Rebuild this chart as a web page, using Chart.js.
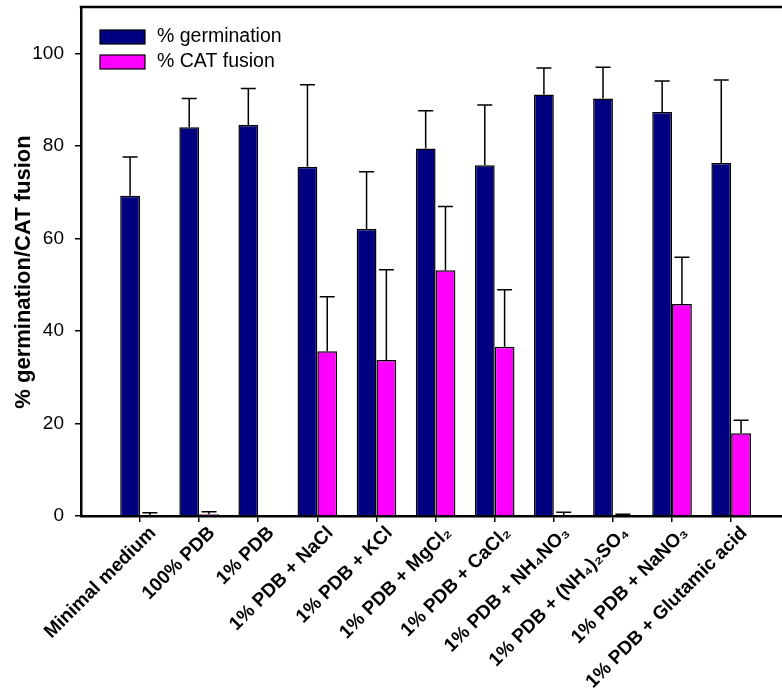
<!DOCTYPE html>
<html>
<head>
<meta charset="utf-8">
<script src="https://cdn.jsdelivr.net/npm/chart.js@4/dist/chart.umd.min.js"></script>
<style>
  html, body { margin: 0; padding: 0; background: #fff; overflow: hidden; }
  #wrap { width: 782px; height: 700px; }
</style>
</head>
<body>
<div id="wrap"><canvas id="c" width="782" height="700"></canvas></div>
<script>
// Treatments along the x axis
const categories = [
  'Minimal medium', '100% PDB', '1% PDB', '1% PDB + NaCl', '1% PDB + KCl',
  '1% PDB + MgCl\u2082', '1% PDB + CaCl\u2082', '1% PDB + NH\u2084NO\u2083',
  '1% PDB + (NH\u2084)\u2082SO\u2084', '1% PDB + NaNO\u2083', '1% PDB + Glutamic acid'
];
// Mean percentages and their (upper) error bars
const germination    = [69.2, 84.0, 84.5, 75.5, 62.0, 79.4, 75.8, 91.1, 90.2, 87.3, 76.3];
const germinationErr = [ 8.4,  6.2,  7.9, 17.7, 12.4,  8.2, 13.0,  5.7,  6.8,  6.7, 17.9];
const catFusion      = [ 0.2,  0.4,  0.0, 35.6, 33.7, 53.1, 36.6,  0.2,  0.2, 45.8, 17.9];
const catFusionErr   = [ 0.5,  0.5,  0.0, 11.8, 19.5, 13.8, 12.3,  0.6,  0.2, 10.1,  2.8];
const yTicks = [0, 20, 40, 60, 80, 100];

const FONT = 'Arial, "Liberation Sans", sans-serif';

// Upward error bars with a cap, drawn over each bar
const errorBars = {
  id: 'errorBars',
  afterDatasetsDraw(chart) {
    const { ctx } = chart;
    const y = chart.scales.y;
    chart.data.datasets.forEach((ds, di) => {
      const meta = chart.getDatasetMeta(di);
      meta.data.forEach((bar, i) => {
        const err = ds.errors[i];
        if (!err) return;
        const top = y.getPixelForValue(ds.data[i].y + err);
        const base = y.getPixelForValue(ds.data[i].y);
        ctx.save();
        ctx.strokeStyle = '#000';
        ctx.lineWidth = 1.5;
        ctx.beginPath();
        ctx.moveTo(bar.x, base);
        ctx.lineTo(bar.x, top);
        ctx.moveTo(bar.x - 7.5, top);
        ctx.lineTo(bar.x + 7.5, top);
        ctx.stroke();
        ctx.restore();
      });
    });
  }
};

// Frame line along the top, legend boxes inside the plot and rotated y title
const decorations = {
  id: 'decorations',
  afterDraw(chart) {
    const { ctx, chartArea } = chart;
    ctx.save();
    ctx.strokeStyle = '#000';
    ctx.lineWidth = 2.5;
    ctx.beginPath();
    ctx.moveTo(chartArea.left - 1.25, chartArea.top);
    ctx.lineTo(chartArea.right + 2, chartArea.top);
    ctx.stroke();

    // legend
    chart.data.datasets.forEach((ds, i) => {
      const bx = 100, by = 30 + i * 25;
      ctx.fillStyle = ds.backgroundColor;
      ctx.fillRect(bx, by, 45, 14);
      ctx.lineWidth = 1.2;
      ctx.strokeStyle = '#000';
      ctx.strokeRect(bx, by, 45, 14);
      ctx.fillStyle = '#000';
      ctx.font = '19.5px ' + FONT;
      ctx.textAlign = 'left';
      ctx.textBaseline = 'middle';
      ctx.fillText(ds.label, 157, by + 7);
    });

    // y axis title
    ctx.translate(24, 272);
    ctx.rotate(-Math.PI / 2);
    ctx.font = 'bold 22px ' + FONT;
    ctx.fillStyle = '#000';
    ctx.textAlign = 'center';
    ctx.textBaseline = 'middle';
    ctx.fillText('% germination/CAT fusion', 0, 0);
    ctx.restore();
  }
};

const toPoints = arr => arr.map((v, i) => ({ x: i, y: v }));

new Chart(document.getElementById('c'), {
  type: 'bar',
  data: {
    datasets: [
      {
        label: '% germination',
        data: toPoints(germination),
        errors: germinationErr,
        backgroundColor: '#000080',
        borderColor: '#000',
        borderWidth: 1.5
      },
      {
        label: '% CAT fusion',
        data: toPoints(catFusion),
        errors: catFusionErr,
        backgroundColor: '#FF00FF',
        borderColor: '#000',
        borderWidth: 1.5
      }
    ]
  },
  options: {
    responsive: false,
    animation: false,
    devicePixelRatio: 1,
    layout: { autoPadding: false, padding: { top: 7, right: 0, left: 0, bottom: 0 } },
    categoryPercentage: 0.67,
    barPercentage: 1.0,
    plugins: {
      legend: { display: false },
      tooltip: { enabled: false }
    },
    scales: {
      x: {
        type: 'linear',
        min: -0.998,
        max: 10.86,
        offset: false,
        afterBuildTicks: s => { s.ticks = categories.map((_, i) => ({ value: i })); },
        afterFit: s => { s.height = 184; s.paddingLeft = 0; s.paddingRight = 0; },
        grid: {
          display: true,
          offset: false,
          drawOnChartArea: false,
          drawTicks: true,
          tickLength: 6,
          color: '#000',
          lineWidth: 1.5
        },
        border: { display: true, color: '#000', width: 2.5 },
        ticks: {
          autoSkip: false,
          maxRotation: 45,
          minRotation: 45,
          padding: 0,
          labelOffset: 13,
          color: '#000',
          font: { family: FONT, size: 19, weight: 'bold' },
          callback: v => categories[v]
        }
      },
      y: {
        min: 0,
        max: 110,
        afterBuildTicks: s => { s.ticks = yTicks.map(v => ({ value: v })); },
        afterFit: s => { s.width = 81; s.paddingTop = 0; s.paddingBottom = 0; },
        grid: {
          display: true,
          drawOnChartArea: false,
          drawTicks: true,
          tickLength: 6,
          color: '#000',
          lineWidth: 1.5
        },
        border: { display: true, color: '#000', width: 2.5 },
        ticks: {
          padding: 11,
          color: '#000',
          font: { family: FONT, size: 19 }
        }
      }
    }
  },
  plugins: [errorBars, decorations]
});
</script>
</body>
</html>
